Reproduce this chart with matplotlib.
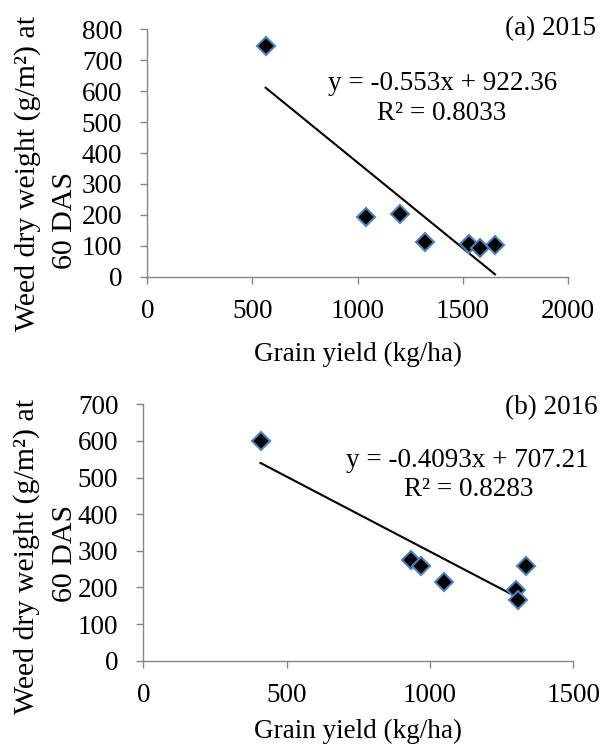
import matplotlib
matplotlib.use("Agg")
import matplotlib.pyplot as plt
import numpy as np

plt.rcParams['font.family'] = ['Liberation Serif', 'DejaVu Serif']

# panel (a) 2015
yield_a = [563, 1038, 1201, 1321, 1530, 1583, 1654]
weed_a = [745, 192, 202, 111, 105, 92, 103]
slope_a, icpt_a = -0.553, 922.36
trend_a_x = [563, 1654]

# panel (b) 2016
yield_b = [409, 933, 969, 1049, 1300, 1306, 1335]
weed_b = [599, 275, 259, 214, 193, 166, 259]
slope_b, icpt_b = -0.4093, 707.21
trend_b_x = [409, 1306]

ticks_a_x = [0, 500, 1000, 1500, 2000]
ticks_a_y = [0, 100, 200, 300, 400, 500, 600, 700, 800]
ticks_b_x = [0, 500, 1000, 1500]
ticks_b_y = [0, 100, 200, 300, 400, 500, 600, 700]

GREY = '#868686'
FS = 19.5
FS_Y = 21.5

fig = plt.figure(figsize=(6.03, 7.44), dpi=100)
ax1 = fig.add_axes([0.2443, 0.6281, 0.6972, 0.3325])
ax2 = fig.add_axes([0.2376, 0.1120, 0.7131, 0.3446])


def style(ax, xt, yt):
    for s in ['top', 'right']:
        ax.spines[s].set_visible(False)
    for s in ['left', 'bottom']:
        ax.spines[s].set_color(GREY)
        ax.spines[s].set_linewidth(1.0)
    ax.set_xlim(xt[0], xt[-1])
    ax.set_ylim(yt[0], yt[-1])
    ax.set_xticks(xt)
    ax.set_yticks(yt)
    ax.tick_params(axis='both', colors=GREY, length=5, width=1.0,
                   labelsize=FS, labelcolor='black')
    ax.tick_params(axis='x', pad=11)
    ax.tick_params(axis='y', pad=13)
    ax.set_xlabel('Grain yield (kg/ha)', fontsize=FS)


def panel(ax, x, y, m, b, tx):
    tx = np.array(tx)
    ax.plot(tx, m * tx + b, color='black', lw=1.5, zorder=3)
    ax.plot(x, y, 'D', ms=9.5, mfc='black', mec='#4F81BD', mew=1.5,
            linestyle='none', zorder=4, clip_on=False)


style(ax1, ticks_a_x, ticks_a_y)
panel(ax1, yield_a, weed_a, slope_a, icpt_a, trend_a_x)
ax1.xaxis.set_label_coords(0.5, -0.262)

style(ax2, ticks_b_x, ticks_b_y)
panel(ax2, yield_b, weed_b, slope_b, icpt_b, trend_b_x)
ax2.xaxis.set_label_coords(0.5, -0.228)

# equations and panel tags
fig.text(0.988, 0.961, '(a) 2015', fontsize=FS, ha='right', va='center')
fig.text(0.7338, 0.8884, 'y = -0.553x + 922.36', fontsize=FS, ha='center', va='center')
fig.text(0.7325, 0.8481, 'R² = 0.8033', fontsize=FS, ha='center', va='center')

fig.text(0.9917, 0.4516, '(b) 2016', fontsize=FS, ha='right', va='center')
fig.text(0.7753, 0.3817, 'y = -0.4093x + 707.21', fontsize=FS, ha='center', va='center')
fig.text(0.7769, 0.3414, 'R² = 0.8283', fontsize=FS, ha='center', va='center')

# y labels, two lines each
fig.text(0.046, 1 - 173 / 744, 'Weed dry weight (g/m²) at', fontsize=FS_Y, rotation=90,
         ha='center', va='center')
fig.text(0.107, 1 - 220 / 744, '60 DAS', fontsize=FS_Y, rotation=90, ha='center', va='center')
fig.text(0.044, 1 - 556 / 744, 'Weed dry weight (g/m²) at', fontsize=FS_Y, rotation=90,
         ha='center', va='center')
fig.text(0.107, 1 - 553 / 744, '60 DAS', fontsize=FS_Y, rotation=90, ha='center', va='center')

fig.savefig('out.png', dpi=100)
